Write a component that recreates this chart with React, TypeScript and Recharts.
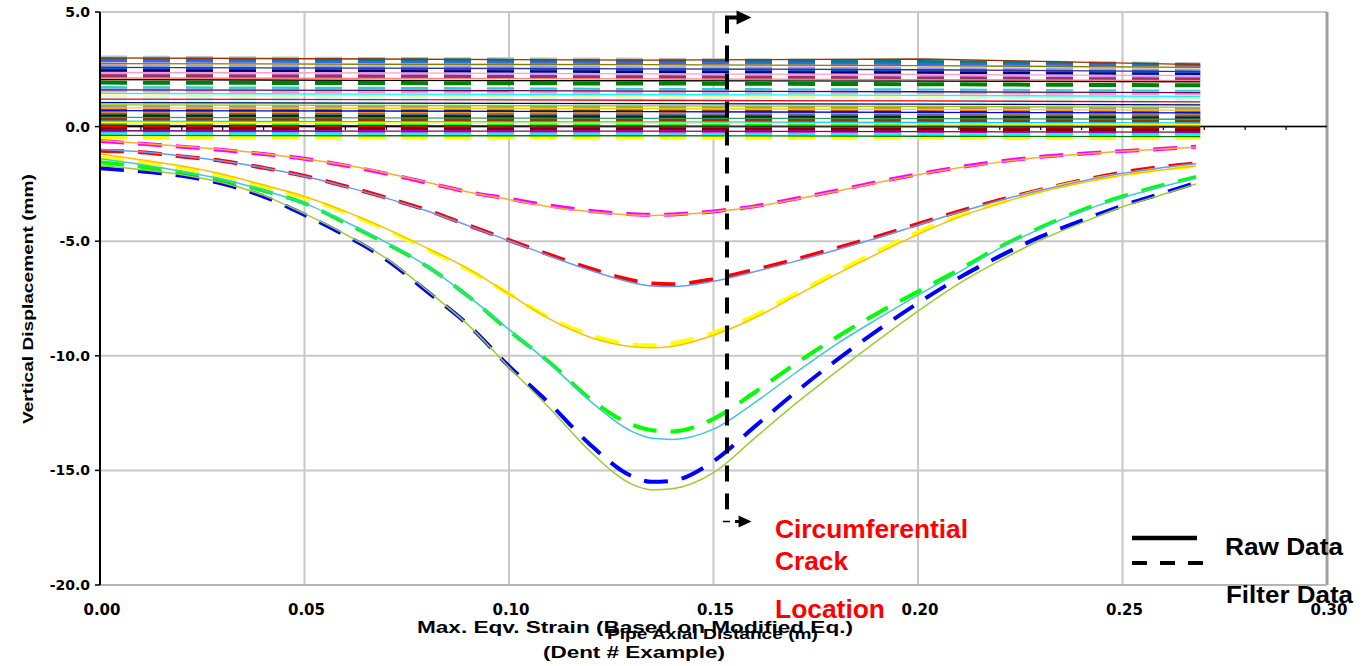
import { CartesianGrid, Line, LineChart, ReferenceLine, XAxis, YAxis } from 'recharts'

const X_TICKS = [0, 0.05, 0.1, 0.15, 0.2, 0.25, 0.3]
const Y_TICKS = [-20, -15, -10, -5, 0, 5]
const MINOR_TICKS = [0.01, 0.02, 0.03, 0.04, 0.06, 0.07, 0.08, 0.09, 0.11, 0.12, 0.13, 0.14, 0.16, 0.17, 0.18, 0.19, 0.21, 0.22, 0.23, 0.24, 0.26, 0.27, 0.28, 0.29]

// dent profiles, mm vs m
const X_DIP = [0, 0.01, 0.02, 0.03, 0.04, 0.05, 0.06, 0.07, 0.08, 0.09, 0.1, 0.11, 0.12, 0.13, 0.135, 0.14, 0.15, 0.16, 0.17, 0.18, 0.19, 0.2, 0.21, 0.22, 0.23, 0.24, 0.25, 0.26, 0.268]

const MAGENTA_FILTER = [-0.63, -0.75, -0.88, -1.02, -1.2, -1.4, -1.7, -2.05, -2.45, -2.85, -3.15, -3.45, -3.68, -3.82, -3.85, -3.83, -3.7, -3.48, -3.15, -2.8, -2.42, -2.08, -1.78, -1.52, -1.32, -1.18, -1.07, -0.97, -0.88]
const ORANGE_RAW = [-0.6, -0.73, -0.86, -1.0, -1.18, -1.4, -1.68, -2.02, -2.43, -2.85, -3.18, -3.5, -3.72, -3.86, -3.88, -3.86, -3.72, -3.5, -3.18, -2.82, -2.45, -2.1, -1.8, -1.55, -1.34, -1.2, -1.08, -0.98, -0.9]

const RED_FILTER = [-1.05, -1.12, -1.3, -1.5, -1.8, -2.15, -2.6, -3.1, -3.65, -4.3, -4.95, -5.6, -6.2, -6.7, -6.85, -6.88, -6.65, -6.25, -5.8, -5.3, -4.8, -4.25, -3.7, -3.2, -2.75, -2.35, -2.0, -1.75, -1.6]
const BLUE_RAW = [-1.0, -1.1, -1.28, -1.5, -1.8, -2.17, -2.62, -3.12, -3.68, -4.32, -4.98, -5.65, -6.28, -6.8, -6.95, -6.98, -6.75, -6.33, -5.88, -5.38, -4.86, -4.3, -3.74, -3.22, -2.78, -2.38, -2.04, -1.78, -1.62]

const YELLOW_FILTER = [-1.35, -1.55, -1.8, -2.15, -2.6, -3.1, -3.75, -4.5, -5.35, -6.25, -7.3, -8.35, -9.1, -9.5, -9.55, -9.45, -9.0, -8.25, -7.3, -6.35, -5.45, -4.6, -3.9, -3.3, -2.8, -2.4, -2.1, -1.85, -1.7]
const GOLD_RAW = [-1.2, -1.45, -1.72, -2.08, -2.55, -3.05, -3.7, -4.45, -5.3, -6.2, -7.3, -8.4, -9.2, -9.6, -9.65, -9.58, -9.1, -8.35, -7.4, -6.45, -5.55, -4.7, -3.95, -3.35, -2.85, -2.45, -2.12, -1.88, -1.72]

const GREEN_FILTER = [-1.55, -1.75, -2.0, -2.35, -2.8, -3.35, -4.2, -5.1, -6.1, -7.4, -8.9, -10.3, -11.9, -13.0, -13.25, -13.3, -12.75, -11.6, -10.35, -9.2, -8.15, -7.2, -6.25, -5.25, -4.4, -3.65, -3.05, -2.55, -2.2]
const CYAN_RAW = [-1.4, -1.65, -1.95, -2.3, -2.78, -3.35, -4.15, -5.05, -6.1, -7.4, -8.85, -10.35, -12.0, -13.3, -13.6, -13.65, -13.2, -12.05, -10.75, -9.5, -8.4, -7.35, -6.35, -5.3, -4.45, -3.7, -3.1, -2.6, -2.25]

const BLUE_FILTER = [-1.82, -1.95, -2.15, -2.5, -3.05, -3.85, -4.75, -5.8, -7.2, -8.65, -10.45, -12.1, -13.9, -15.25, -15.5, -15.45, -14.6, -13.1, -11.6, -10.2, -8.9, -7.7, -6.6, -5.65, -4.8, -4.1, -3.45, -2.9, -2.45]
const LIME_RAW = [-1.7, -1.88, -2.1, -2.45, -3.0, -3.8, -4.7, -5.75, -7.15, -8.65, -10.5, -12.3, -14.2, -15.6, -15.85, -15.8, -15.1, -13.6, -12.1, -10.7, -9.35, -8.05, -6.85, -5.85, -4.95, -4.2, -3.5, -2.95, -2.5]

const DIPS = [
  { filter: MAGENTA_FILTER, raw: ORANGE_RAW, fColor: '#ff00ff', rColor: '#ffaa33' },
  { filter: RED_FILTER, raw: BLUE_RAW, fColor: '#ff0000', rColor: '#6699ff' },
  { filter: YELLOW_FILTER, raw: GOLD_RAW, fColor: '#ffff00', rColor: '#ffbf00' },
  { filter: GREEN_FILTER, raw: CYAN_RAW, fColor: '#00ff00', rColor: '#40c8d8' },
  { filter: BLUE_FILTER, raw: LIME_RAW, fColor: '#0000ff', rColor: '#9acd32' },
]

// undeformed gauges near zero
const NOISE_X = [0, 0.067, 0.134, 0.201, 0.269]
const NOISE = [
  { color: '#c0c0c0', filter: true, v: [3.02, 2.95, 2.92, 2.85, 2.72] },
  { color: '#008080', filter: true, v: [2.92, 2.9, 2.85, 2.82, 2.68] },
  { color: '#993300', filter: false, v: [3.0, 2.95, 2.9, 2.95, 2.7] },
  { color: '#3366ff', filter: true, v: [2.82, 2.78, 2.74, 2.7, 2.6] },
  { color: '#ffcc99', filter: true, v: [2.72, 2.68, 2.64, 2.6, 2.52] },
  { color: '#808000', filter: false, v: [2.75, 2.72, 2.7, 2.66, 2.58] },
  { color: '#9999ff', filter: true, v: [2.62, 2.58, 2.55, 2.5, 2.42] },
  { color: '#0066cc', filter: true, v: [2.52, 2.48, 2.45, 2.42, 2.35] },
  { color: '#333399', filter: false, v: [2.58, 2.55, 2.52, 2.48, 2.4] },
  { color: '#000080', filter: true, v: [2.42, 2.38, 2.35, 2.32, 2.25] },
  { color: '#ff99cc', filter: false, v: [2.36, 2.34, 2.3, 2.28, 2.22] },
  { color: '#cc99ff', filter: true, v: [2.3, 2.28, 2.25, 2.2, 2.15] },
  { color: '#993366', filter: true, v: [2.2, 2.18, 2.15, 2.1, 2.05] },
  { color: '#ff8080', filter: false, v: [2.12, 2.1, 2.08, 2.05, 2.0] },
  { color: '#000000', filter: false, v: [2.05, 2.02, 2.0, 1.98, 1.95] },
  { color: '#008000', filter: true, v: [1.92, 1.9, 1.88, 1.85, 1.8] },
  { color: '#33cccc', filter: true, v: [1.68, 1.65, 1.6, 1.58, 1.52] },
  { color: '#660066', filter: false, v: [1.6, 1.58, 1.55, 1.52, 1.48] },
  { color: '#99ccff', filter: true, v: [1.58, 1.55, 1.52, 1.5, 1.45] },
  { color: '#ff99cc', filter: true, v: [1.5, 1.46, 1.42, 1.4, 1.35] },
  { color: '#00ffff', filter: false, v: [1.45, 1.42, 1.4, 1.36, 1.32] },
  { color: '#ffffcc', filter: true, v: [1.4, 1.37, 1.34, 1.32, 1.28] },
  { color: '#ffff99', filter: true, v: [1.32, 1.3, 1.26, 1.24, 1.2] },
  { color: '#ccffff', filter: true, v: [1.24, 1.22, 1.2, 1.17, 1.13] },
  { color: '#ff0000', filter: false, v: [1.2, 1.18, 1.15, 1.12, 1.08] },
  { color: '#ccffff', filter: true, v: [1.15, 1.12, 1.1, 1.08, 1.02] },
  { color: '#000080', filter: false, v: [1.05, 1.02, 1.0, 0.98, 0.95] },
  { color: '#ccffcc', filter: true, v: [1.0, 0.98, 0.95, 0.92, 0.9] },
  { color: '#99cc00', filter: false, v: [0.95, 0.92, 0.9, 0.88, 0.84] },
  { color: '#969696', filter: true, v: [0.86, 0.84, 0.82, 0.8, 0.76] },
  { color: '#ff6600', filter: true, v: [0.76, 0.74, 0.72, 0.7, 0.66] },
  { color: '#ffcc00', filter: false, v: [0.82, 0.8, 0.78, 0.75, 0.72] },
  { color: '#003366', filter: true, v: [0.66, 0.64, 0.62, 0.6, 0.56] },
  { color: '#0000ff', filter: false, v: [0.7, 0.68, 0.65, 0.62, 0.6] },
  { color: '#ff9900', filter: true, v: [0.58, 0.56, 0.55, 0.52, 0.5] },
  { color: '#666699', filter: true, v: [0.52, 0.5, 0.48, 0.46, 0.44] },
  { color: '#003300', filter: true, v: [0.44, 0.42, 0.4, 0.38, 0.35] },
  { color: '#339966', filter: false, v: [0.4, 0.38, 0.36, 0.35, 0.32] },
  { color: '#993300', filter: true, v: [0.32, 0.3, 0.28, 0.26, 0.22] },
  { color: '#00ccff', filter: false, v: [0.24, 0.22, 0.2, 0.18, 0.16] },
  { color: '#00ff00', filter: true, v: [0.14, 0.12, 0.1, 0.08, 0.05] },
  { color: '#ffff00', filter: false, v: [0.18, 0.16, 0.15, 0.12, 0.1] },
  { color: '#333333', filter: false, v: [0.05, 0.04, 0.02, 0.0, -0.02] },
  { color: '#ff0000', filter: true, v: [0.0, -0.02, -0.04, -0.05, -0.08] },
  { color: '#800000', filter: true, v: [-0.1, -0.12, -0.13, -0.15, -0.17] },
  { color: '#ff00ff', filter: true, v: [-0.22, -0.24, -0.25, -0.27, -0.3] },
  { color: '#800080', filter: false, v: [-0.18, -0.2, -0.2, -0.22, -0.24] },
  { color: '#00ffff', filter: true, v: [-0.33, -0.34, -0.35, -0.36, -0.38] },
  { color: '#008000', filter: false, v: [-0.38, -0.4, -0.4, -0.42, -0.44] },
  { color: '#ffff00', filter: true, v: [-0.46, -0.46, -0.47, -0.48, -0.5] },
]

// crack location marker
const CRACK_X = 0.1533
const ARROW_TIP_X = 0.1593
const MARKER_TOP = 4.76
const MARKER_BOTTOM = -16.7
const ARROW_LOW_Y = -17.23

const toPoints = (xs: number[], ys: number[]) => xs.map((x, i) => ({ x, y: ys[i] }))

const TICK_FONT = 'DejaVu Sans, Verdana, sans-serif'
const TEXT_FONT = 'Liberation Sans, Arial, sans-serif'

function YTick(props: any) {
  const { x, y, payload } = props
  return (
    <text x={x} y={y + 5} textAnchor="end" fontFamily={TICK_FONT} fontWeight="bold" fontSize={14} fill="#000">
      {Number(payload.value).toFixed(1)}
    </text>
  )
}

function XTick(props: any) {
  const { x, y, payload } = props
  return (
    <text x={x + 2} y={y + 30} textAnchor="middle" fontFamily={TICK_FONT} fontWeight="bold" fontSize={15} fill="#000">
      {Number(payload.value).toFixed(2)}
    </text>
  )
}

function TopArrow(props: any) {
  const { x1, y1, x2 } = props
  return (
    <g>
      <line x1={x1 - 2} y1={y1} x2={x2 - 14} y2={y1} stroke="#000" strokeWidth={4} />
      <polygon points={`${x2 - 15},${y1 - 7} ${x2},${y1} ${x2 - 15},${y1 + 7}`} fill="#000" />
    </g>
  )
}

function LowArrow(props: any) {
  const { x1, y1, x2 } = props
  return (
    <g>
      <line x1={x1 - 4} y1={y1} x2={x1 + 3} y2={y1} stroke="#000" strokeWidth={1.5} />
      <line x1={x1 + 8} y1={y1} x2={x2 - 12} y2={y1} stroke="#000" strokeWidth={3} />
      <polygon points={`${x2 - 13},${y1 - 6} ${x2},${y1} ${x2 - 13},${y1 + 6}`} fill="#000" />
    </g>
  )
}

function Overlay() {
  return (
    <svg width={1363} height={666} style={{ position: 'absolute', left: 0, top: 0, pointerEvents: 'none' }}>
      <g fontFamily={TEXT_FONT} fontWeight="bold" fill="#000">
        <text x={33} y={299} transform="rotate(-90 33 299)" textAnchor="middle" fontSize={14} textLength={250} lengthAdjust="spacingAndGlyphs">
          Vertical Displacement (mm)
        </text>
        <text x={417} y={633} fontSize={16} textLength={436} lengthAdjust="spacingAndGlyphs">
          Max. Eqv. Strain (Based on Modified Eq.)
        </text>
        <text x={607} y={639} fontSize={15} textLength={211} lengthAdjust="spacingAndGlyphs">
          Pipe Axial Distance (m)
        </text>
        <text x={543} y={658} fontSize={16} textLength={182} lengthAdjust="spacingAndGlyphs">
          (Dent # Example)
        </text>
      </g>
      <g fontFamily={TEXT_FONT} fontWeight="bold" fill="#ff0000" fontSize={25}>
        <text x={775} y={538} textLength={193} lengthAdjust="spacingAndGlyphs">Circumferential</text>
        <text x={775} y={570} textLength={73} lengthAdjust="spacingAndGlyphs">Crack</text>
        <text x={775} y={618} textLength={110} lengthAdjust="spacingAndGlyphs">Location</text>
      </g>
      <line x1={1132} y1={538} x2={1197} y2={538} stroke="#000" strokeWidth={4.5} />
      <line x1={1132} y1={563} x2={1203} y2={563} stroke="#000" strokeWidth={4} strokeDasharray="15 13" />
      <g fontFamily={TEXT_FONT} fontWeight="bold" fill="#000" fontSize={24}>
        <text x={1225} y={555} textLength={118} lengthAdjust="spacingAndGlyphs">Raw Data</text>
        <text x={1226} y={603} textLength={127} lengthAdjust="spacingAndGlyphs">Filter Data</text>
      </g>
    </svg>
  )
}

export default function App() {
  return (
    <div style={{ position: 'absolute', left: 0, top: 0, width: 1363, height: 666, background: '#fff' }}>
      <LineChart width={1363} height={666} margin={{ top: 12, right: 36, bottom: 51, left: 40 }}>
        <CartesianGrid stroke="#c8c8c8" strokeWidth={2} />
        <XAxis
          type="number"
          dataKey="x"
          domain={[0, 0.3]}
          ticks={X_TICKS}
          allowDataOverflow
          height={30}
          tickSize={0}
          tickMargin={0}
          tick={<XTick />}
          axisLine={{ stroke: '#b4b4b4', strokeWidth: 2 }}
          tickLine={false}
        />
        <YAxis
          type="number"
          domain={[-20, 5]}
          ticks={Y_TICKS}
          allowDataOverflow
          width={60}
          tickSize={5}
          tickMargin={5}
          tick={<YTick />}
          axisLine={{ stroke: '#000', strokeWidth: 2 }}
          tickLine={{ stroke: '#000', strokeWidth: 1.5 }}
        />
        <ReferenceLine x={0.3} stroke="#a0a0a0" strokeWidth={3} />
        <ReferenceLine y={0} stroke="#000" strokeWidth={1.5} />
        {MINOR_TICKS.map((t) => (
          <ReferenceLine
            key={`mt${t}`}
            segment={[
              { x: t, y: 0 },
              { x: t, y: -0.15 },
            ]}
            stroke="#000"
            strokeWidth={1.2}
          />
        ))}
        {NOISE.filter((n) => n.filter).map((n, i) => (
          <Line
            key={`nf${i}`}
            data={toPoints(NOISE_X, n.v)}
            dataKey="y"
            type="linear"
            stroke={n.color}
            strokeWidth={4}
            strokeDasharray="27 16"
            dot={false}
            activeDot={false}
            isAnimationActive={false}
          />
        ))}
        {NOISE.filter((n) => !n.filter).map((n, i) => (
          <Line
            key={`nr${i}`}
            data={toPoints(NOISE_X, n.v)}
            dataKey="y"
            type="linear"
            stroke={n.color}
            strokeWidth={1.3}
            dot={false}
            activeDot={false}
            isAnimationActive={false}
          />
        ))}
        {DIPS.map((d, i) => (
          <Line
            key={`df${i}`}
            data={toPoints(X_DIP, d.filter)}
            dataKey="y"
            type="monotone"
            stroke={d.fColor}
            strokeWidth={4}
            strokeDasharray="24 14"
            dot={false}
            activeDot={false}
            isAnimationActive={false}
          />
        ))}
        {DIPS.map((d, i) => (
          <Line
            key={`dr${i}`}
            data={toPoints(X_DIP, d.raw)}
            dataKey="y"
            type="monotone"
            stroke={d.rColor}
            strokeWidth={1.5}
            dot={false}
            activeDot={false}
            isAnimationActive={false}
          />
        ))}
        <ReferenceLine
          segment={[
            { x: CRACK_X, y: MARKER_TOP },
            { x: CRACK_X, y: MARKER_BOTTOM },
          ]}
          stroke="#000"
          strokeWidth={4}
          strokeDasharray="16 12"
        />
        <ReferenceLine
          segment={[
            { x: CRACK_X, y: MARKER_TOP },
            { x: ARROW_TIP_X, y: MARKER_TOP },
          ]}
          shape={<TopArrow />}
        />
        <ReferenceLine
          segment={[
            { x: CRACK_X, y: ARROW_LOW_Y },
            { x: ARROW_TIP_X, y: ARROW_LOW_Y },
          ]}
          shape={<LowArrow />}
        />
      </LineChart>
      <Overlay />
    </div>
  )
}
